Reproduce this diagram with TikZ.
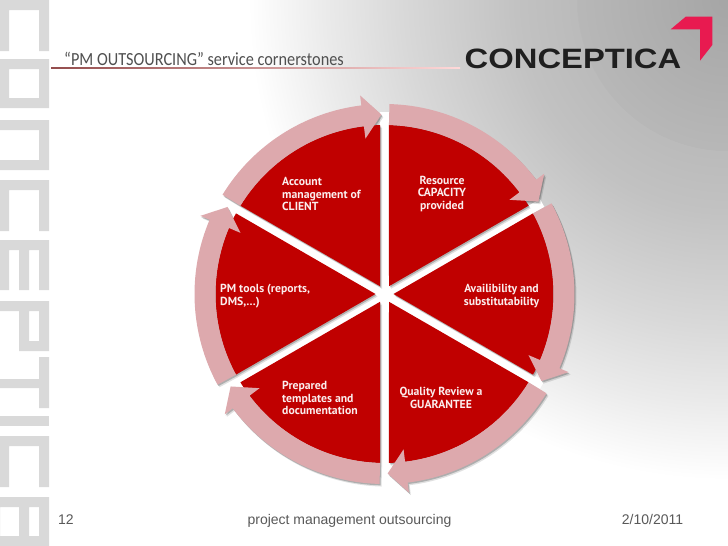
\documentclass[tikz,border=0pt]{standalone}
\usepackage{fontspec}
\setmainfont{PT Sans}
\newfontfamily\headfont{Carlito}
\newfontfamily\footfont{Liberation Sans}
\newfontfamily\brandfont{Liberation Sans}

\definecolor{logogray}{HTML}{D9D9D9}
\definecolor{wedgered}{HTML}{C00000}
\definecolor{ringpink}{HTML}{DDA9AD}
\definecolor{titlegray}{HTML}{505050}
\definecolor{footgray}{HTML}{595959}
\definecolor{brandpink}{HTML}{E81A50}
\definecolor{labelwhite}{HTML}{FBEDED}

\pgfdeclareradialshading{slideglow}{\pgfpoint{0bp}{0bp}}{%
  color(0bp)=(black!34); color(11bp)=(black!24); color(17bp)=(black!15); color(21bp)=(black!8); color(25bp)=(white); color(50bp)=(white)}

\tikzset{
  seglabel/.style={inner sep=0pt, text=labelwhite, font=\fontsize{11.7}{12.6}\selectfont\bfseries},
  footlabel/.style={inner sep=0pt, anchor=base, text=footgray, font=\fontsize{14}{16}\footfont},
}

\begin{document}
\begin{tikzpicture}[x=1pt,y=-1pt]
\useasboundingbox (0,0) rectangle (728,546);

% background
\fill[white] (0,0) rectangle (728,546);
\begin{scope}
\clip (0,0) rectangle (728,546);
\shade[shading=slideglow] (728,0) circle (480);
\fill[black,opacity=.015] (728,0) circle (151);
\end{scope}

% side logo
\foreach \ytop in {0,180,436}
  \fill[logogray] (0,\ytop) rectangle (49,\ytop+10) (0,\ytop+10) rectangle (9,\ytop+51) (39,\ytop+10) rectangle (49,\ytop+51);
\fill[logogray,even odd rule] (0,59) rectangle (49,108) (9,69) rectangle (39,98);
\fill[logogray] (0,120) -- (49,120) -- (49,170) -- (0,170) -- (0,160) -- (39,160) -- (39,130) -- (0,130) -- cycle;
\fill[logogray] (0,240) rectangle (49,250) (0,250) rectangle (9,290) (19,250) rectangle (29,290) (39,250) rectangle (49,290);
\fill[logogray,even odd rule] (0,301) -- (49,301) -- (49,351) -- (19,351) -- (19,311) -- (0,311) -- cycle (29,311) rectangle (39,341);
\fill[logogray] (39,357) rectangle (49,408) (0,379) rectangle (39,388);
\fill[logogray] (0,416) rectangle (49,426);
\fill[logogray,even odd rule] (0,497) rectangle (49,546) (0,507) rectangle (19,536) (29,507) rectangle (39,536);

% heading
\node[inner sep=0pt, anchor=base west, text=titlegray, font=\fontsize{18.5}{20}\headfont] (heading) at (64,65) {\scalebox{0.88}[1]{“PM OUTSOURCING” service cornerstones}};
\shade[left color=red!40!black!70, right color=red!15!white] (51,67.9) rectangle (460,68.7);
\node[inner sep=0pt, text=black!88, font=\fontsize{28}{30}\brandfont\bfseries] (brand) at (573,59) {\scalebox{1.17}[1]{CONCEPTICA}};
\fill[brandpink] (670.7,29.3) -- (685.7,16.7) -- (712.3,16.7) -- (712.3,45) -- (700,60.7) -- (700,29.3) -- cycle;

% wheel
\begin{scope}[shift={(384.5,294)}]
\foreach \a in {-90,-30,30,90,150,210}
  \fill[white] (\a+90:4.5) -- ++(\a:182) -- ++(\a-90:9) -- ++(\a+180:182) -- cycle;
\foreach \a in {-90,-30,30,90,150,210} {
  \foreach \dx/\dy/\shadeop in {2/2.6/.12,1/1.4/.22} {
    \fill[black,opacity=\shadeop,shift={(\dx,\dy)}] (\a+30:9) -- (\a+1.5:169) arc (\a+1.5:\a+58.5:169) -- cycle;
    \fill[black,opacity=\shadeop,shift={(\dx,\dy)}] (\a+1.5:190) arc (\a+1.5:\a+53:190) -- (\a+53:200) -- (\a+59:179.5) -- (\a+53:156.5) -- (\a+53:169) arc (\a+53:\a+1.5:169) -- cycle;
  }
}
\foreach \a in {-90,-30,30,90,150,210} {
  \fill[wedgered] (\a+30:9) -- (\a+1.5:169) arc (\a+1.5:\a+58.5:169) -- cycle;
  \fill[ringpink] (\a+1.5:190) arc (\a+1.5:\a+53:190) -- (\a+53:200) -- (\a+59:179.5) -- (\a+53:156.5) -- (\a+53:169) arc (\a+53:\a+1.5:169) -- cycle;
}
\end{scope}

% wheel labels
\node[seglabel, anchor=west, align=left] (client) at (282,194) {Account\\management of\\CLIENT};
\node[seglabel, align=center] (capacity) at (442,194) {Resource\\CAPACITY\\provided};
\node[seglabel, align=center] (avail) at (501.5,296) {Availibility and\\substitutability};
\node[seglabel, align=center] (quality) at (441,398) {Quality Review a\\GUARANTEE};
\node[seglabel, anchor=west, align=left] (templates) at (282,398) {Prepared\\templates and\\documentation};
\node[seglabel, anchor=west, align=left] (tools) at (220,296) {PM tools (reports,\\DMS,…)};

% footer
\node[footlabel] (pageno) at (66,524) {12};
\node[footlabel] (footer) at (349.5,524) {project management outsourcing};
\node[footlabel] (date) at (652.5,524) {2/10/2011};
\end{tikzpicture}
\end{document}
